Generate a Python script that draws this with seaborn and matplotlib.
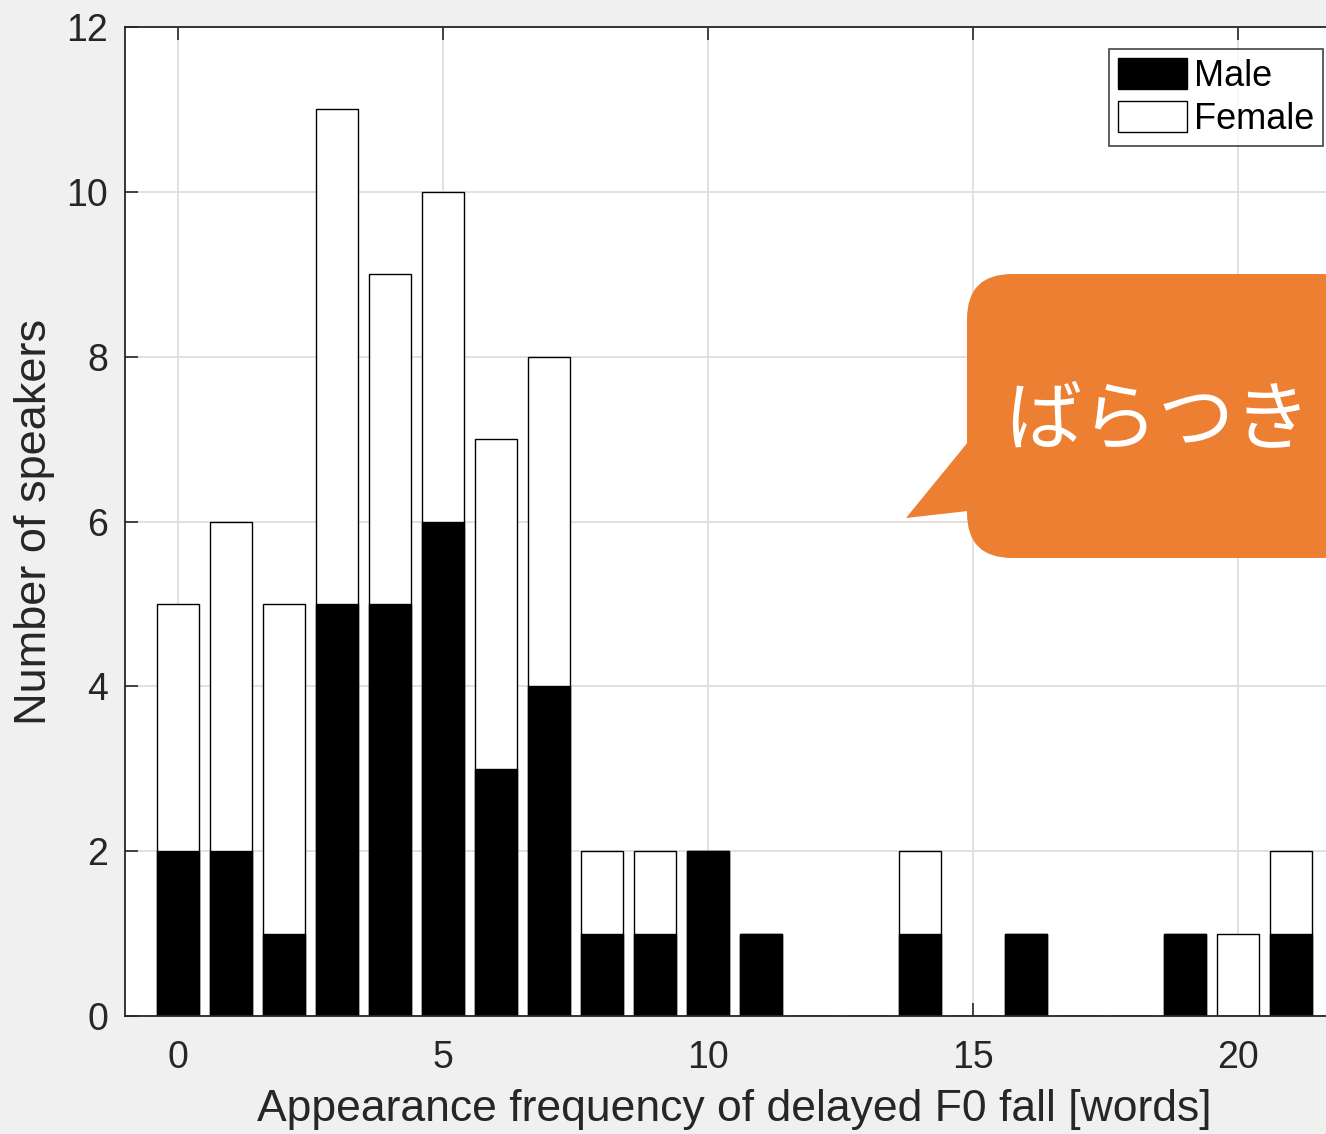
import numpy as np
import pandas as pd
import matplotlib
matplotlib.use("Agg")
import matplotlib.pyplot as plt
import seaborn as sns
from matplotlib.patches import Patch, FancyBboxPatch, Polygon
from matplotlib.transforms import Affine2D

# Datos
words = list(range(22))
male = [2, 2, 1, 5, 5, 6, 3, 4, 1, 1, 2, 1, 0, 0, 1, 0, 1, 0, 0, 1, 0, 1]
female = [3, 4, 4, 6, 4, 4, 4, 4, 1, 1, 0, 0, 0, 0, 1, 0, 0, 0, 0, 0, 1, 1]
callout_text = "ばらつき"

df = pd.DataFrame({"words": words, "male": male, "female": female})
df["total"] = df["male"] + df["female"]

plt.rcParams["font.family"] = ["Liberation Sans", "DejaVu Sans"]
ink = "#262626"

W, H = 1326, 1134
fig = plt.figure(figsize=(W / 100, H / 100), dpi=100, facecolor="#f0f0f0")
ax = fig.add_axes([125 / W, 118 / H, 1219 / W, 989 / H])
ax.set_facecolor("white")

# barras apiladas: total en blanco, hombres en negro encima
sns.barplot(data=df, x="words", y="total", native_scale=True, color="white",
            saturation=1, edgecolor="black", linewidth=1, width=0.8, ax=ax)
sns.barplot(data=df, x="words", y="male", native_scale=True, color="black",
            saturation=1, edgecolor="black", linewidth=1, width=0.8, ax=ax)

ax.set_xlim(-1, 22)
ax.set_ylim(0, 12)
ax.set_xticks([0, 5, 10, 15, 20])
ax.set_yticks(range(0, 13, 2))
ax.set_axisbelow(True)
ax.grid(True, color="#dedede", linewidth=1.3)
ax.tick_params(direction="in", length=9.5, width=1.2, top=True, right=True,
               labelsize=27, colors=ink)
ax.tick_params(axis="x", pad=17)
ax.tick_params(axis="y", pad=12)
for s in ax.spines.values():
    s.set_color(ink)
    s.set_linewidth(1.3)

ax.set_xlabel("Appearance frequency of delayed F0 fall [words]", fontsize=32, color=ink, labelpad=10)
ax.set_ylabel("Number of speakers", fontsize=32.5, color=ink, labelpad=8)

handles = [Patch(facecolor="black", edgecolor="black", label="Male"),
           Patch(facecolor="white", edgecolor="black", label="Female")]
leg = ax.legend(handles=handles, loc="upper left", bbox_to_anchor=(1109 / W, 1 - 49 / H),
                bbox_transform=fig.transFigure, fontsize=26, frameon=True, fancybox=False,
                edgecolor=ink, handlelength=1.9, handleheight=0.95, handletextpad=0.2,
                borderpad=0.25, labelspacing=0.2, borderaxespad=0)
leg.get_frame().set_linewidth(1.3)

# globo naranja (coordenadas en píxeles de la figura)
px = Affine2D().scale(1 / W, -1 / H).translate(0, 1) + fig.transFigure
orange = "#ed7f33"
box = FancyBboxPatch((967, 274), 500, 284, boxstyle="round,pad=0,rounding_size=45",
                     transform=px, facecolor=orange, edgecolor="none", zorder=5)
fig.patches.append(box)
tri = Polygon([(968, 442), (906, 518), (968, 511)], closed=True, transform=px,
              facecolor=orange, edgecolor="none", zorder=5)
fig.patches.append(tri)
fig.text(1005, 422, callout_text, transform=px, fontsize=55, color="white",
         family=["Noto Sans CJK JP", "DejaVu Sans"], va="center", ha="left", zorder=6)

fig.savefig("out.png", dpi=100, facecolor=fig.get_facecolor())
